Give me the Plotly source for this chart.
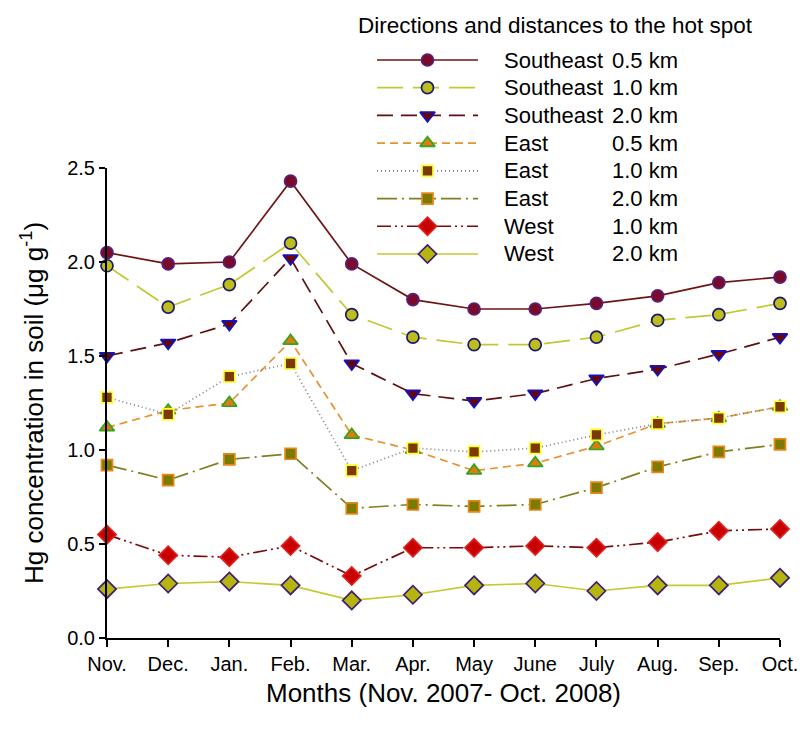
import plotly.graph_objects as go

months = ["Nov.", "Dec.", "Jan.", "Feb.", "Mar.", "Apr.", "May", "June", "July", "Aug.", "Sep.", "Oct."]

se_05 = [2.05, 1.99, 2.00, 2.43, 1.99, 1.80, 1.75, 1.75, 1.78, 1.82, 1.89, 1.92]
se_10 = [1.98, 1.76, 1.88, 2.10, 1.72, 1.60, 1.56, 1.56, 1.60, 1.69, 1.72, 1.78]
se_20 = [1.50, 1.57, 1.67, 2.02, 1.46, 1.30, 1.26, 1.30, 1.38, 1.43, 1.51, 1.60]
e_05 = [1.12, 1.21, 1.25, 1.58, 1.08, 1.00, 0.89, 0.93, 1.02, 1.14, 1.17, 1.23]
e_10 = [1.28, 1.19, 1.39, 1.46, 0.89, 1.01, 0.99, 1.01, 1.08, 1.14, 1.17, 1.23]
e_20 = [0.92, 0.84, 0.95, 0.98, 0.69, 0.71, 0.70, 0.71, 0.80, 0.91, 0.99, 1.03]
w_10 = [0.55, 0.44, 0.43, 0.49, 0.33, 0.48, 0.48, 0.49, 0.48, 0.51, 0.57, 0.58]
w_20 = [0.26, 0.29, 0.30, 0.28, 0.20, 0.23, 0.28, 0.29, 0.25, 0.28, 0.28, 0.32]

directions = ["Southeast", "Southeast", "Southeast", "East", "East", "East", "West", "West"]
distances = ["0.5 km", "1.0 km", "2.0 km", "0.5 km", "1.0 km", "2.0 km", "1.0 km", "2.0 km"]
series = [se_05, se_10, se_20, e_05, e_10, e_20, w_10, w_20]
legend_title = "Directions and distances to the hot spot"

styles = [
    dict(lc="#6E1414", dash="solid", sym="circle", fill="#7A0A2A", edge="#5A1E78", size=12),
    dict(lc="#C2C832", dash="26px,10px", sym="circle", fill="#BDBD1E", edge="#1A1A6A", size=12),
    dict(lc="#5E0F0F", dash="16px,8px", sym="triangle-down", fill="#6B0505", edge="#1212C8", size=13),
    dict(lc="#E8912F", dash="8px,5px", sym="triangle-up", fill="#E07B10", edge="#2EA61E", size=13),
    dict(lc="#7F7F7F", dash="1px,3px", sym="square", fill="#7A3A00", edge="#FFFF33", size=11),
    dict(lc="#7F7F1F", dash="20px,5px,2px,5px", sym="square", fill="#7B7B00", edge="#E8861A", size=11),
    dict(lc="#7A0A0A", dash="14px,4px,2px,4px,2px,4px", sym="diamond", fill="#C80000", edge="#E02020", size=14),
    dict(lc="#C8C832", dash="solid", sym="diamond", fill="#B5B50F", edge="#3F1F6F", size=14),
]

FONT = "Liberation Sans, Arial, sans-serif"
fig = go.Figure()

x_idx = list(range(len(months)))
for vals, st, d, dist in zip(series, styles, directions, distances):
    fig.add_trace(go.Scatter(
        x=x_idx, y=vals, mode="lines+markers", name=f"{d} {dist}",
        line=dict(color=st["lc"], width=1.7, dash=st["dash"]),
        marker=dict(symbol=st["sym"], size=st["size"], color=st["fill"],
                    line=dict(color=st["edge"], width=1.7)),
        cliponaxis=False, showlegend=False,
    ))

# custom legend: sample lines on a hidden helper axis
n = len(series)
for i, st in enumerate(styles):
    row = i + 1
    fig.add_trace(go.Scatter(
        x=[0, 0.5, 1], y=[row, row, row], mode="lines", xaxis="x2", yaxis="y2",
        line=dict(color=st["lc"], width=1.7, dash=st["dash"]),
        showlegend=False, hoverinfo="skip", cliponaxis=False,
    ))
    fig.add_trace(go.Scatter(
        x=[0.5], y=[row], mode="markers", xaxis="x2", yaxis="y2",
        marker=dict(symbol=st["sym"], size=st["size"], color=st["fill"],
                    line=dict(color=st["edge"], width=1.7)),
        showlegend=False, hoverinfo="skip", cliponaxis=False,
    ))

W, H = 805, 729
L, R, T, B = 107, 25, 20, 91
plot_h = H - T - B
pw = W - L - R
Y0 = H - B  # pixel row of y=0


def px_x(px):
    return (px - L) / pw


def px_y(py):
    return (Y0 - py) / plot_h


top_main = px_y(168)
row_y0, row_step = 60, 27.71
leg_lo = px_y(row_y0 + 7 * row_step + row_step / 2)
leg_hi = px_y(row_y0 - row_step / 2)

annotations = []
for i in range(n):
    py = row_y0 + i * row_step
    annotations.append(dict(x=px_x(502), y=px_y(py), xref="paper", yref="paper", text=directions[i],
                            showarrow=False, xanchor="left", yanchor="middle",
                            font=dict(family=FONT, size=22, color="#000")))
    annotations.append(dict(x=px_x(680), y=px_y(py), xref="paper", yref="paper", text=distances[i],
                            showarrow=False, xanchor="right", yanchor="middle",
                            font=dict(family=FONT, size=22, color="#000")))
annotations.append(dict(x=px_x(356), y=px_y(26), xref="paper", yref="paper",
                        text=legend_title, showarrow=False, xanchor="left", yanchor="middle",
                        font=dict(family=FONT, size=22.5, color="#000")))

fig.update_layout(
    width=W, height=H,
    margin=dict(l=L, r=R, t=T, b=B),
    paper_bgcolor="white", plot_bgcolor="white",
    font=dict(family=FONT, size=20, color="#000"),
    xaxis=dict(
        range=[0, 11], tickvals=x_idx, ticktext=months,
        showline=True, linecolor="#000", linewidth=2,
        ticks="outside", ticklen=7, tickwidth=1.5, tickcolor="#000",
        showgrid=False, zeroline=False, automargin=False,
        tickfont=dict(family=FONT, size=20),
        title=dict(text="Months (Nov. 2007- Oct. 2008)", font=dict(family=FONT, size=26), standoff=10),
    ),
    yaxis=dict(
        domain=[0, top_main], range=[0, 2.5], tickvals=[0, 0.5, 1.0, 1.5, 2.0, 2.5],
        tickformat=".1f",
        showline=True, linecolor="#000", linewidth=2,
        ticks="outside", ticklen=6, tickwidth=1.5, tickcolor="#000",
        showgrid=False, zeroline=False, automargin=False,
        tickfont=dict(family=FONT, size=20),
        title=dict(text="Hg concentration in soil (μg g<sup>-1</sup>)", font=dict(family=FONT, size=26), standoff=16),
    ),
    xaxis2=dict(domain=[px_x(377), px_x(478)], range=[0, 1], anchor="y2", visible=False, fixedrange=True),
    yaxis2=dict(domain=[leg_lo, leg_hi], range=[8.5, 0.5], anchor="x2", visible=False, fixedrange=True),
    annotations=annotations,
    showlegend=False,
)

fig.write_html(
    "out.html",
    config={"displayModeBar": False},
    post_script="document.body.style.margin='0';document.body.style.overflow='hidden';",
)
